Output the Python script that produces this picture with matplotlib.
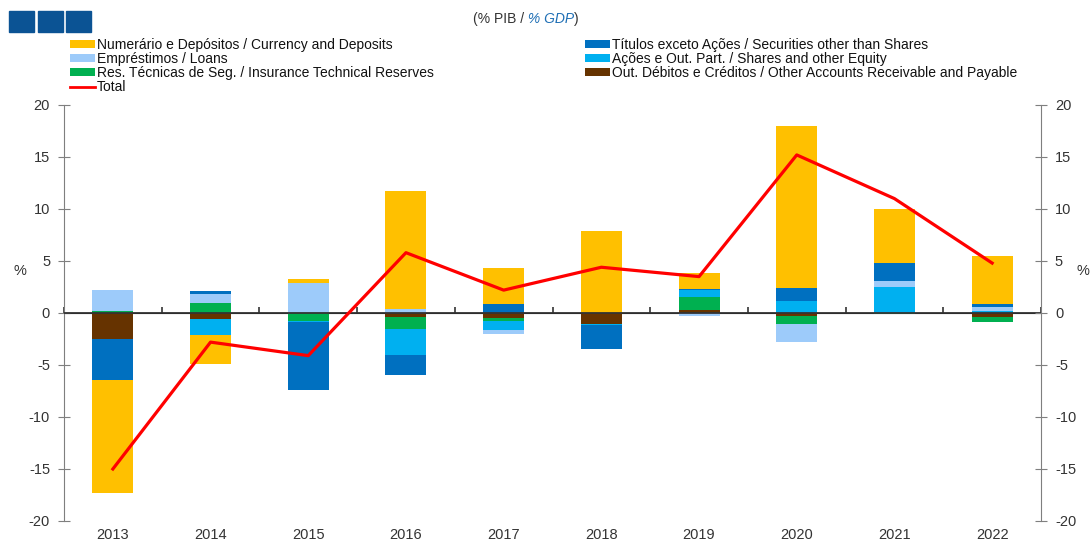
import numpy as np
import matplotlib
matplotlib.use("Agg")
import matplotlib.pyplot as plt
from matplotlib.patches import Patch, Rectangle
from matplotlib.lines import Line2D

plt.rcParams['font.family'] = ['Liberation Sans', 'DejaVu Sans']
plt.rcParams['axes.unicode_minus'] = False

# Data (% of GDP)
years = [2013, 2014, 2015, 2016, 2017, 2018, 2019, 2020, 2021, 2022]
other_accounts = [-2.5, -0.55, 0.0, -0.4, -0.5, -1.05, 0.33, -0.3, 0.0, -0.42]
insurance = [0.15, 1.0, -0.8, -1.1, -0.25, 0.0, 1.2, -0.8, -0.1, -0.4]
shares = [0.0, -1.55, -0.1, -2.5, -0.9, -0.1, 0.65, 1.2, 2.5, 0.2]
loans = [2.1, 0.85, 2.9, 0.4, -0.4, 0.0, -0.25, -1.65, 0.55, 0.35]
securities = [-3.9, 0.25, -6.5, -1.95, 0.9, -2.3, 0.08, 1.25, 1.75, 0.3]
currency = [-10.9, -2.8, 0.35, 11.3, 3.4, 7.9, 1.55, 15.55, 5.2, 4.65]
total = [-15.0, -2.8, -4.1, 5.8, 2.2, 4.4, 3.5, 15.2, 11.0, 4.8]

labels = {
    'currency': 'Numerário e Depósitos / Currency and Deposits',
    'loans': 'Empréstimos / Loans',
    'insurance': 'Res. Técnicas de Seg. / Insurance Technical Reserves',
    'total': 'Total',
    'securities': 'Títulos exceto Ações / Securities other than Shares',
    'shares': 'Ações e Out. Part. / Shares and other Equity',
    'other': 'Out. Débitos e Créditos / Other Accounts Receivable and Payable',
}
colors = {
    'currency': '#FFC000',
    'loans': '#9DCBFA',
    'insurance': '#00B050',
    'securities': '#0070C0',
    'shares': '#00B0F0',
    'other': '#663300',
}

TXT = '#333333'
AXC = '#7f7f7f'

fig = plt.figure(figsize=(10.9, 5.42), dpi=100)
ax = fig.add_axes([64 / 1090, 1 - 521 / 542, 977 / 1090, 416 / 542])

x = np.arange(len(years))
width = 0.42

# stacked bars, positive and negative parts stacked separately
stack = [('other', other_accounts), ('insurance', insurance), ('shares', shares),
         ('loans', loans), ('securities', securities), ('currency', currency)]
pos_bottom = np.zeros(len(years))
neg_bottom = np.zeros(len(years))
for key, vals in stack:
    v = np.array(vals, dtype=float)
    bottom = np.where(v >= 0, pos_bottom, neg_bottom)
    ax.bar(x, v, width, bottom=bottom, color=colors[key], linewidth=0, zorder=2)
    pos_bottom += np.where(v >= 0, v, 0)
    neg_bottom += np.where(v < 0, v, 0)

ax.plot(x, total, color='#FF0000', linewidth=2.3, zorder=4)

ax.set_xlim(-0.5, len(years) - 0.5)
ax.set_ylim(-20, 20)
ax.set_yticks(np.arange(-20, 25, 5))
ax.set_xticks(x)
ax.set_xticklabels([str(y) for y in years], color=TXT, fontsize=10.5)
ax.tick_params(axis='x', length=0, pad=5)
ax.tick_params(axis='y', direction='inout', length=8, color=AXC, labelcolor=TXT,
               labelsize=10.5, pad=6)
for s in ['top', 'bottom', 'right']:
    ax.spines[s].set_visible(False)
ax.spines['left'].set_color(AXC)

# zero line with ticks between categories
ax.axhline(0, color='#333333', linewidth=1.3, zorder=3)
zero_ax = ax.secondary_xaxis(0.5)
zero_ax.set_xticks(np.arange(len(years) + 1) - 0.5)
zero_ax.set_xticklabels([])
zero_ax.tick_params(length=4, width=1.2, color='#333333')
zero_ax.spines['bottom'].set_visible(False)

axr = ax.twinx()
axr.set_ylim(-20, 20)
axr.set_yticks(np.arange(-20, 25, 5))
axr.tick_params(axis='y', direction='inout', length=8, color=AXC, labelcolor=TXT,
                labelsize=10.5, pad=6)
for s in ['top', 'bottom', 'left']:
    axr.spines[s].set_visible(False)
axr.spines['right'].set_color(AXC)

ax.text(-0.045, 0.6, '%', transform=ax.transAxes, fontsize=10.5, color=TXT,
        ha='center', va='center')
ax.text(1.043, 0.6, '%', transform=ax.transAxes, fontsize=10.5, color=TXT,
        ha='center', va='center')

# header: blue squares and unit text
for i in range(3):
    fig.patches.append(Rectangle(((9 + i * 28.5) / 1090, 1 - 32 / 542), 25 / 1090, 21 / 542,
                                 transform=fig.transFigure, color='#0B5394'))

renderer = fig.canvas.get_renderer()
hx = 473 / 1090
hy = 1 - 19 / 542
for part, col, sty in [('(% PIB /', TXT, 'normal'), (' % GDP', '#1F6FB5', 'italic'), (')', TXT, 'normal')]:
    t = fig.text(hx, hy, part, fontsize=10, color=col, style=sty, ha='left', va='center')
    bb = t.get_window_extent(renderer=renderer)
    hx += bb.width / fig.bbox.width

# legends
left_keys = ['currency', 'loans', 'insurance']
h_left = [Patch(facecolor=colors[k], edgecolor='none') for k in left_keys]
h_left.append(Line2D([0], [0], color='#FF0000', linewidth=2))
l_left = [labels[k] for k in left_keys] + [labels['total']]
right_keys = ['securities', 'shares', 'other']
h_right = [Patch(facecolor=colors[k], edgecolor='none') for k in right_keys]
l_right = [labels[k] for k in right_keys]

common = dict(loc='upper left', frameon=False, fontsize=10, handlelength=1.8,
              handleheight=0.45, handletextpad=0.15, labelspacing=0.0,
              borderaxespad=0, borderpad=0)
leg1 = fig.legend(h_left, l_left, bbox_to_anchor=(70 / 1090, 1 - 38 / 542), **common)
leg2 = fig.legend(h_right, l_right, bbox_to_anchor=(585 / 1090, 1 - 38 / 542), **common)
for lg in (leg1, leg2):
    for t in lg.get_texts():
        t.set_color('#111111')

fig.savefig('out.png', dpi=100)
